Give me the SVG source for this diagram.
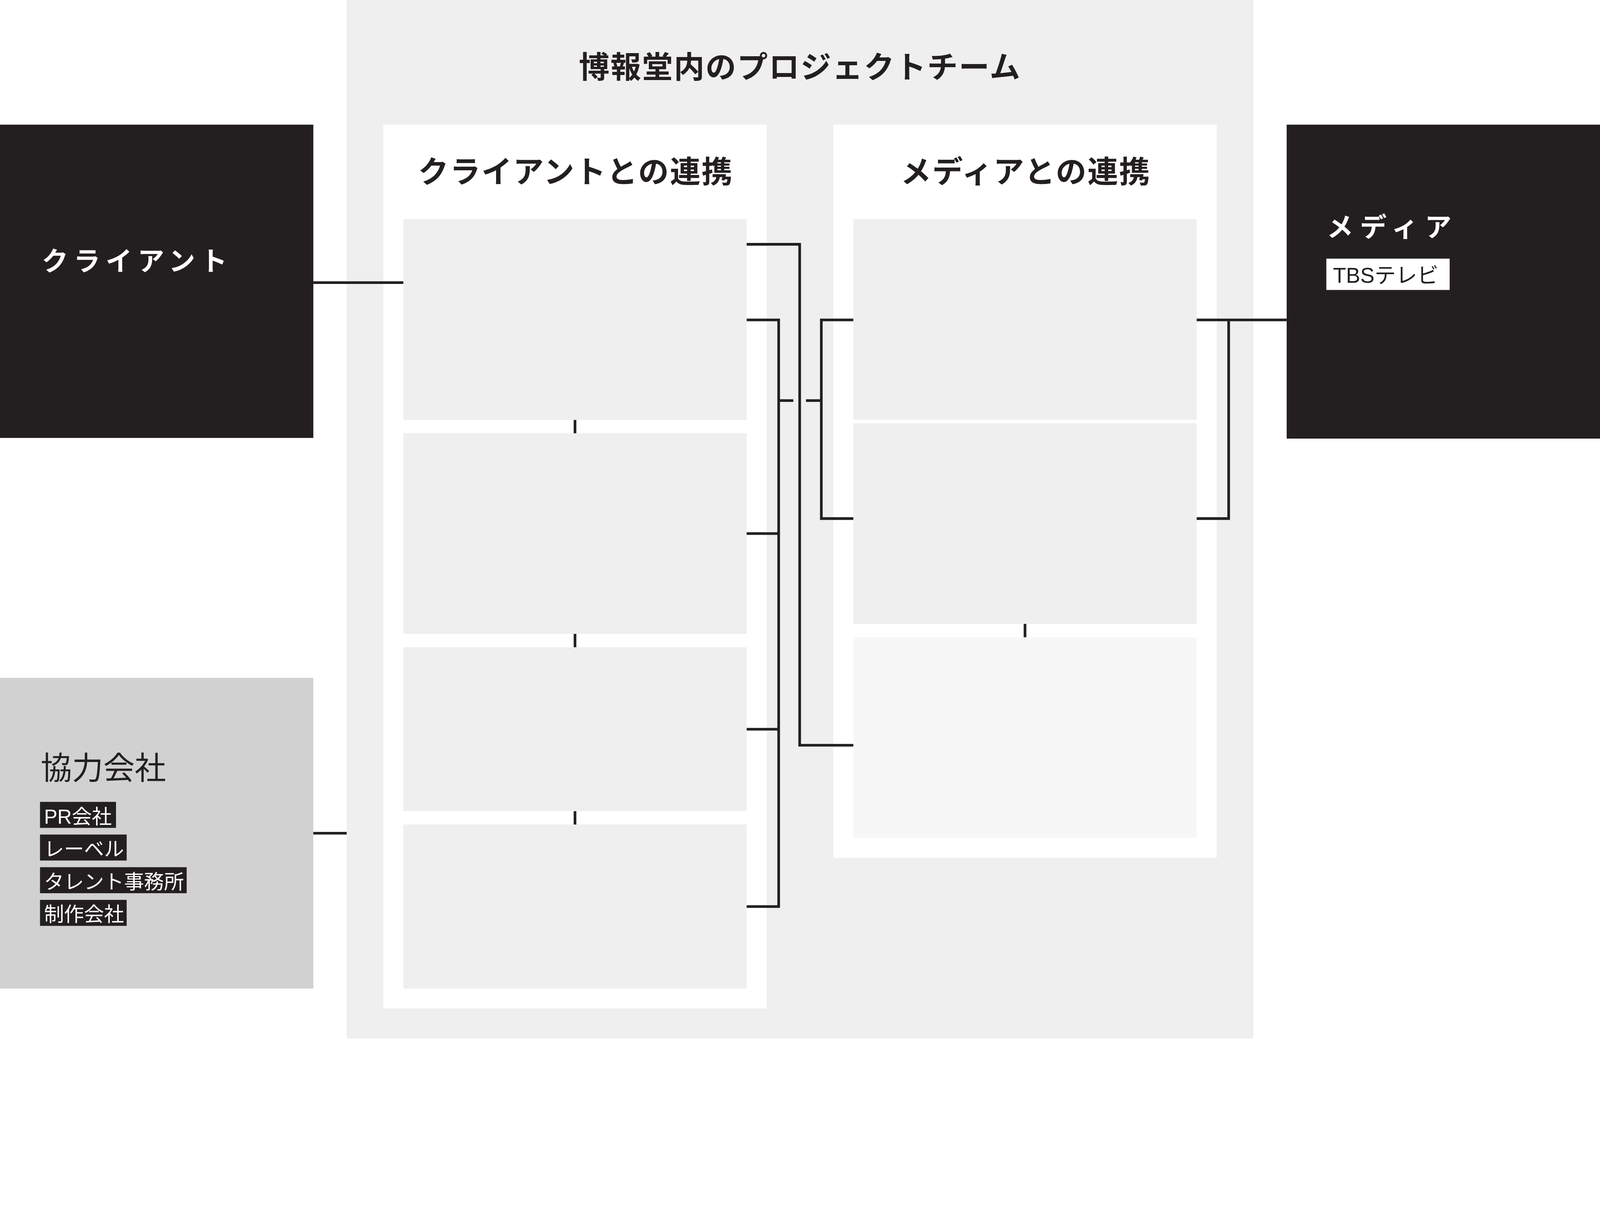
<svg xmlns="http://www.w3.org/2000/svg" width="4800" height="3116" viewBox="0 0 4800 3116" preserveAspectRatio="xMidYMin meet">
<style>
svg{max-width:100vw;max-height:100vh}
.jp{font-family:"Noto Sans CJK JP","Liberation Sans",sans-serif}
.mix{font-family:"Liberation Sans","Noto Sans CJK JP",sans-serif}
.head{font-size:92px;letter-spacing:3px;fill:#231f20;font-weight:700}
.kata{font-size:80px;fill:#ffffff;font-weight:700}
.tag{font-size:60px;fill:#ffffff}
.conn{fill:none;stroke:#231f20;stroke-width:8;stroke-linejoin:miter;stroke-linecap:butt}
.inner{fill:#efefef}
</style>
<rect width="4800" height="3116" fill="#ffffff"/>

<g id="project-team">
  <rect x="1040" y="0" width="2720" height="3116" fill="#efefef"/>
  <text class="jp head" x="2400" y="234" text-anchor="middle">博報堂内のプロジェクトチーム</text>
</g>

<g id="client-collab">
  <rect x="1150" y="374" width="1150" height="2652" fill="#ffffff"/>
  <text class="jp head" x="1727" y="548" text-anchor="middle">クライアントとの連携</text>
  <rect id="client-box-1" class="inner" x="1210" y="658" width="1030" height="602"/>
  <rect id="client-box-2" class="inner" x="1210" y="1300" width="1030" height="602"/>
  <rect id="client-box-3" class="inner" x="1210" y="1942" width="1030" height="492"/>
  <rect id="client-box-4" class="inner" x="1210" y="2474" width="1030" height="492"/>
</g>

<g id="media-collab">
  <rect x="2500" y="374" width="1150" height="2200" fill="#ffffff"/>
  <text class="jp head" x="3077" y="548" text-anchor="middle">メディアとの連携</text>
  <rect id="media-box-1" class="inner" x="2560" y="658" width="1030" height="602"/>
  <rect id="media-box-2" class="inner" x="2560" y="1270" width="1030" height="602"/>
  <rect id="media-box-3" x="2560" y="1912" width="1030" height="602" fill="#f7f7f7"/>
</g>

<g id="client">
  <rect x="0" y="374" width="940" height="940" fill="#231f20"/>
  <text class="jp kata" x="125" y="812" letter-spacing="16">クライアント</text>
</g>

<g id="media">
  <rect x="3860" y="374" width="940" height="942" fill="#231f20"/>
  <text class="jp kata" x="3980" y="710" letter-spacing="20">メディア</text>
  <rect x="3979" y="776" width="370" height="94" fill="#ffffff"/>
  <text class="mix" x="3999" y="849" font-size="64" fill="#231f20">TBSテレビ</text>
</g>

<g id="partners">
  <rect x="0" y="2034" width="940" height="932" fill="#d1d1d1"/>
  <text class="jp" x="122" y="2338" font-size="94" fill="#231f20">協力会社</text>
  <rect x="120" y="2406" width="228" height="78" fill="#231f20"/>
  <text class="mix tag" x="132" y="2471">PR会社</text>
  <rect x="120" y="2504" width="260" height="78" fill="#231f20"/>
  <text class="jp tag" x="132" y="2569">レーベル</text>
  <rect x="120" y="2602" width="440" height="78" fill="#231f20"/>
  <text class="jp tag" x="132" y="2667">タレント事務所</text>
  <rect x="120" y="2700" width="260" height="78" fill="#231f20"/>
  <text class="jp tag" x="132" y="2765">制作会社</text>
</g>

<g id="connectors">
  <path class="conn" d="M940 848 H1210"/>
  <path class="conn" d="M940 2500 H1040"/>
  <path class="conn" d="M2240 733 H2399 V2236 H2560"/>
  <path class="conn" d="M2240 960 H2336 V2720 H2240"/>
  <path class="conn" d="M2240 1601 H2336"/>
  <path class="conn" d="M2240 2188 H2336"/>
  <path class="conn" d="M2336 1202 H2380"/>
  <path class="conn" d="M2560 960 H2464 V1556 H2560"/>
  <path class="conn" d="M2418 1202 H2464"/>
  <path class="conn" d="M3590 960 H3860"/>
  <path class="conn" d="M3686 960 V1556 H3590"/>
  <path class="conn" d="M1725 1260 V1300"/>
  <path class="conn" d="M1725 1902 V1942"/>
  <path class="conn" d="M1725 2434 V2474"/>
  <path class="conn" d="M3075 1872 V1912"/>
</g>
</svg>
